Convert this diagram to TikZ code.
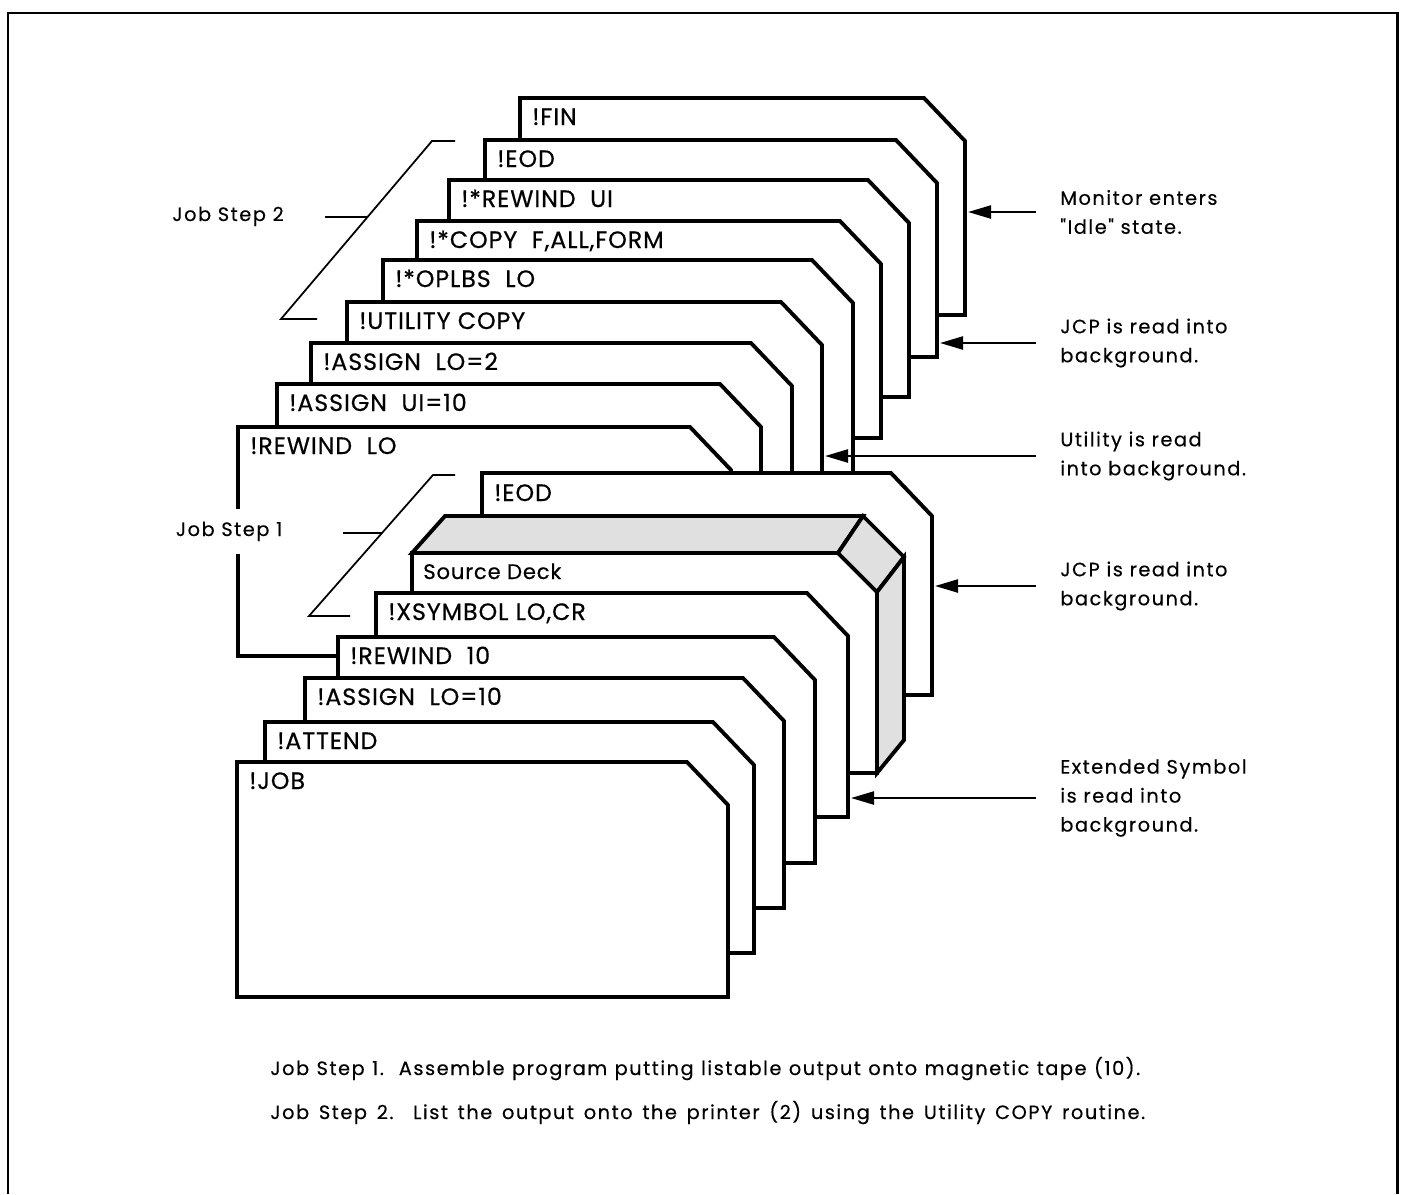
\documentclass[tikz,border=0pt]{standalone}
\usepackage{fontspec}
\setmainfont{Poppins}
\newfontfamily\cardfont{Poppins}[LetterSpace=4,FakeBold=0.5]
\newfontfamily\notefont{Poppins}[LetterSpace=8,FakeBold=0.4]
\usepackage{tikz}
\usetikzlibrary{
    arrows.meta,
    calc
}

\begin{document}
\begin{tikzpicture}[x=0.02cm,y=-0.02cm,
    card/.style={draw,fill=white,line width=2.2pt},
    deckside/.style={draw,fill=black!12,line width=2.2pt},
    cardtext/.style={anchor=base west,inner sep=0pt,
        font=\cardfont\fontsize{13.5}{16}\selectfont},
    note/.style={anchor=west,align=left,inner xsep=0.48cm,inner ysep=0pt,
        font=\notefont\fontsize{11}{16.5}\selectfont},
    steplabel/.style={anchor=base west,inner sep=0pt,
        font=\notefont\fontsize{11}{13}\selectfont},
    bracket/.style={line width=1pt},
    pointer/.style={line width=1.3pt,-{Triangle[length=4.6mm,width=2.6mm]}}]

\useasboundingbox (0,0) rectangle (1405,1194);

% Frame
\draw[line width=1.7pt] (8,1194) -- (8,13) -- (1397,13) -- (1397,1194);

% Job Step 2 deck (back to front)
\foreach \xl/\yt/\xr/\yb/\lbl [count=\i] in {
    520/98/965/315/{!FIN},
    485/140/937/357/{!EOD},
    449/180/909/397/{!*REWIND\ \ UI},
    417/221/881/438/{!*COPY\ \ F,ALL,FORM},
    383/260/853/480/{!*OPLBS\ \ LO},
    347/302/822/520/{!UTILITY COPY},
    311/343/792/560/{!ASSIGN\ \ LO=2},
    277/384/761/600/{!ASSIGN\ \ UI=10},
    238/427/731/656/{!REWIND\ \ LO}}{
    \draw[card] (\xl,\yb) -- (\xl,\yt) -- (\xr-41,\yt) -- (\xr,\yt+43)
        -- (\xr,\yb) -- cycle;
    \node[cardtext] (up\i) at (\xl+12,\yt+27) {\lbl};
}

% Job Step 1 deck (back to front)
\draw[card] (482,695) -- (482,473) -- (891,473) -- (932,516) -- (932,695) -- cycle;
\node[cardtext] (loweod) at (494,501) {!EOD};

% Source deck
\draw[card] (412,773) -- (412,553) -- (838,553) -- (877,592) -- (877,773) -- cycle;
\draw[deckside] (412,553) -- (445,516) -- (863,516) -- (838,553) -- cycle;
\draw[deckside] (838,553) -- (863,516) -- (904,557) -- (877,592) -- cycle;
\draw[deckside] (877,592) -- (904,557) -- (904,740) -- (877,773) -- cycle;
\node[cardtext,font=\cardfont\fontsize{12}{14}\selectfont] (source) at (423,579)
    {Source Deck};

\foreach \xl/\yt/\xr/\yb/\lbl [count=\i] in {
    376/593/848/817/{!XSYMBOL LO,CR},
    338/637/815/863/{!REWIND\ \ 10},
    305/678/784/908/{!ASSIGN\ \ LO=10},
    265/722/754/953/{!ATTEND},
    237/762/728/997/{!JOB}}{
    \draw[card] (\xl,\yb) -- (\xl,\yt) -- (\xr-41,\yt) -- (\xr,\yt+43)
        -- (\xr,\yb) -- cycle;
    \node[cardtext] (low\i) at (\xl+12,\yt+27) {\lbl};
}

% Job steps
\node[steplabel] (steptwo) at (172,221) {Job Step 2};
\coordinate (b2a) at (455,141);
\coordinate (b2b) at (432,141);
\coordinate (b2c) at (281,319);
\coordinate (b2d) at (317,319);
\draw[bracket] (b2a) -- (b2b) -- (b2c) -- (b2d);
\draw[bracket] ($(b2b)!0.427!(b2c)$) -- ++(-43,0);

\node[steplabel,fill=white,inner xsep=2pt,inner ysep=0.25cm] (stepone)
    at (172,536) {Job Step 1};
\coordinate (b1a) at (455,475);
\coordinate (b1b) at (433,475);
\coordinate (b1c) at (309,616);
\coordinate (b1d) at (350,616);
\draw[bracket] (b1a) -- (b1b) -- (b1c) -- (b1d);
\draw[bracket] ($(b1b)!0.411!(b1c)$) -- ++(-39,0);

% Notes
\node[note] (idle) at (1036,212) {Monitor enters\\"Idle" state.};
\node[note] (jcptwo) at (1036,343) {JCP is read into\\background.};
\node[note] (utility) at (1036,456) {Utility is read\\into background.};
\node[note] (jcpone) at (1036,586) {JCP is read into\\background.};
\node[note] (xsymbol) at (1036,798) {Extended Symbol\\is read into\\background.};

\coordinate (idletip) at (968,212);
\coordinate (jcptwotip) at (940,343);
\coordinate (utilitytip) at (825,456);
\coordinate (jcponetip) at (935,586);
\coordinate (xsymboltip) at (851,798);

\draw[pointer] (idle.west) -- (idletip);
\draw[pointer] (jcptwo.west) -- (jcptwotip);
\draw[pointer] (utility.west) -- (utilitytip);
\draw[pointer] (jcpone.west) -- (jcponetip);
\draw[pointer] (xsymbol.west) -- (xsymboltip);

% Caption
\node[steplabel] (capone) at (270,1075)
    {\makebox[17.4cm][s]{Job Step 1.\ \ Assemble program putting listable output onto magnetic tape (10).}};
\node[steplabel] (captwo) at (270,1119)
    {\makebox[17.5cm][s]{Job Step 2.\ \ List the output onto the printer (2) using the Utility COPY routine.}};

\end{tikzpicture}
\end{document}
